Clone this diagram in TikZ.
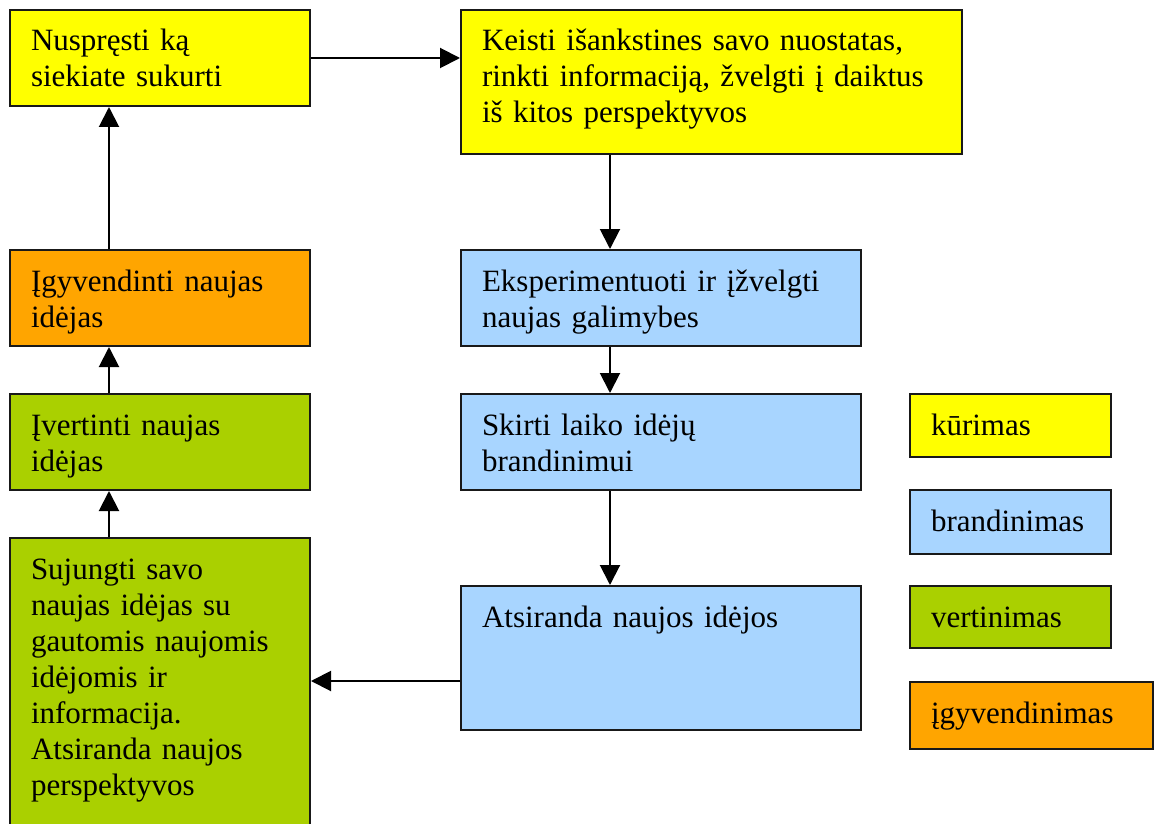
\documentclass[tikz,border=0pt]{standalone}
\usepackage{fontspec}
\setmainfont{Liberation Serif}
\usetikzlibrary{arrows.meta}
\definecolor{cyel}{HTML}{FFFF00}
\definecolor{cblue}{HTML}{A8D5FF}
\definecolor{cgreen}{HTML}{AAD000}
\definecolor{corange}{HTML}{FFA500}
\begin{document}
\begin{tikzpicture}[x=1pt,y=-1pt,
  bx/.style={draw=black!90, line width=2pt, anchor=north west, align=left,
    inner xsep=21pt, inner ysep=13pt, text height=28pt,
    font=\fontsize{31}{36}\selectfont},
  conn/.style={line width=2pt, -{Triangle[length=20pt,width=20pt]}}]
\useasboundingbox (0,0) rectangle (1154,824);
\fill[white] (0,0) rectangle (1154,824);
% main flow
\node[bx, fill=cyel, text width=258pt, text depth=42pt] (A) at (9,9) {Nuspręsti ką\\siekiate sukurti};
\node[bx, fill=cyel, text width=459pt, text depth=90pt] (B) at (460,9) {Keisti išankstines savo nuostatas,\\rinkti informaciją, žvelgti į daiktus\\iš kitos perspektyvos};
\node[bx, fill=cblue, text width=358pt, text depth=42pt] (C) at (460,249) {Eksperimentuoti ir įžvelgti\\naujas galimybes};
\node[bx, fill=cblue, text width=358pt, text depth=42pt] (D) at (460,393) {Skirti laiko idėjų\\brandinimui};
\node[bx, fill=cblue, text width=358pt, text depth=90pt] (E) at (460,585) {Atsiranda naujos idėjos};
\node[bx, fill=cgreen, text width=258pt, text depth=246pt] (F) at (9,537) {Sujungti savo\\naujas idėjas su\\gautomis naujomis\\idėjomis ir\\informacija.\\Atsiranda naujos\\perspektyvos};
\node[bx, fill=cgreen, text width=258pt, text depth=42pt] (G) at (9,393) {Įvertinti naujas\\idėjas};
\node[bx, fill=corange, text width=258pt, text depth=42pt] (H) at (9,249) {Įgyvendinti naujas\\idėjas};
% legend
\node[bx, fill=cyel, text width=159pt, text depth=9pt] (L1) at (909,393) {kūrimas};
\node[bx, fill=cblue, text width=159pt, text depth=10pt] (L2) at (909,489) {brandinimas};
\node[bx, fill=cgreen, text width=159pt, text depth=8pt] (L3) at (909,585) {vertinimas};
\node[bx, fill=corange, text width=201pt, text depth=13pt] (L4) at (909,681) {įgyvendinimas};
% connectors
\draw[conn] (A.east) -- (A.east -| B.west);
\draw[conn] ([xshift=150pt]B.south west) -- ([xshift=150pt]C.north west);
\draw[conn] ([xshift=150pt]C.south west) -- ([xshift=150pt]D.north west);
\draw[conn] ([xshift=150pt]D.south west) -- ([xshift=150pt]E.north west);
\coordinate (e1) at ([yshift=-96pt]E.north west);
\draw[conn] (e1) -- (e1 -| F.east);
\draw[conn] ([xshift=100pt]F.north west) -- ([xshift=100pt]G.south west);
\draw[conn] ([xshift=100pt]G.north west) -- ([xshift=100pt]H.south west);
\draw[conn] ([xshift=100pt]H.north west) -- ([xshift=100pt]A.south west);
\end{tikzpicture}
\end{document}
